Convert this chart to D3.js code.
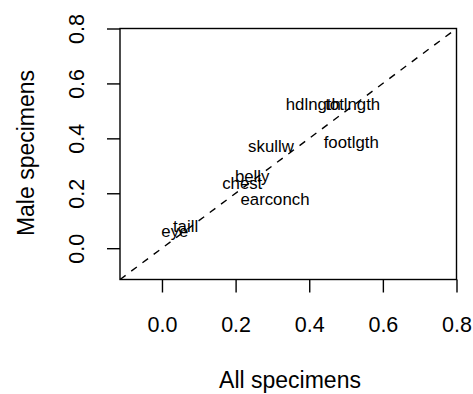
<!DOCTYPE html>
<html>
<head>
<meta charset="utf-8">
<script src="https://cdn.jsdelivr.net/npm/d3@7"></script>
<style>
  html, body { margin: 0; padding: 0; background: #fff; }
  svg { display: block; font-family: "Liberation Sans", Arial, Helvetica, sans-serif; }
</style>
</head>
<body>
<svg id="chart" width="473" height="394"></svg>
<script>
// Variable names and their loadings for all specimens vs. male specimens
const variables = ["hdlngth", "skullw", "totlngth", "taill", "footlgth", "earconch", "eye", "chest", "belly"];
const allSpecimens = [0.411, 0.296, 0.518, 0.064, 0.514, 0.307, 0.035, 0.218, 0.245];
const maleSpecimens = [0.525, 0.372, 0.525, 0.081, 0.388, 0.179, 0.061, 0.236, 0.263];

const tickValues = [0.0, 0.2, 0.4, 0.6, 0.8];
const axisDomain = [-0.114, 0.8];

const plot = { left: 120, right: 456.5, top: 28.5, bottom: 279.5 };

const svg = d3.select("#chart");

const x = d3.scaleLinear().domain(axisDomain).range([plot.left, plot.right]);
const y = d3.scaleLinear().domain(axisDomain).range([plot.bottom, plot.top]);

const tickFont = 21.5;
const titleFont = 23;
const labelFont = 16.8;
const lw = 1.4;

// Bottom axis
const xAxis = d3.axisBottom(x).tickValues(tickValues).tickFormat(d3.format(".1f"))
  .tickSize(13).tickSizeOuter(0);
const gx = svg.append("g").attr("transform", `translate(0,${plot.bottom})`).call(xAxis);
gx.select(".domain").remove();
gx.selectAll(".tick line").attr("stroke", "#000").attr("stroke-width", lw);
gx.selectAll(".tick text")
  .attr("y", 52).attr("dy", 0)
  .attr("fill", "#000")
  .style("font-size", tickFont + "px")
  .style("font-family", "'Liberation Sans', Arial, sans-serif");

// Left axis with rotated labels
const yAxis = d3.axisLeft(y).tickValues(tickValues).tickFormat(d3.format(".1f"))
  .tickSize(13).tickSizeOuter(0);
const gy = svg.append("g").attr("transform", `translate(${plot.left},0)`).call(yAxis);
gy.select(".domain").remove();
gy.selectAll(".tick line").attr("stroke", "#000").attr("stroke-width", lw);
gy.selectAll(".tick text")
  .attr("transform", "rotate(-90)")
  .attr("x", 0).attr("y", -36.5).attr("dy", 0)
  .attr("text-anchor", "middle")
  .attr("fill", "#000")
  .style("font-size", tickFont + "px")
  .style("font-family", "'Liberation Sans', Arial, sans-serif");

// Plot box
svg.append("rect")
  .attr("x", plot.left).attr("y", plot.top)
  .attr("width", plot.right - plot.left).attr("height", plot.bottom - plot.top)
  .attr("fill", "none").attr("stroke", "#000").attr("stroke-width", lw);

// Clip for the reference line
svg.append("clipPath").attr("id", "clip")
  .append("rect")
  .attr("x", plot.left).attr("y", plot.top)
  .attr("width", plot.right - plot.left).attr("height", plot.bottom - plot.top);

// y = x reference line
svg.append("line")
  .attr("clip-path", "url(#clip)")
  .attr("x1", x(axisDomain[0])).attr("y1", y(axisDomain[0]))
  .attr("x2", x(axisDomain[1])).attr("y2", y(axisDomain[1]))
  .attr("stroke", "#000").attr("stroke-width", lw)
  .attr("stroke-dasharray", "7,7");

// Variable labels at their coordinates
svg.append("g").selectAll("text")
  .data(variables)
  .join("text")
  .attr("x", (d, i) => x(allSpecimens[i]))
  .attr("y", (d, i) => y(maleSpecimens[i]))
  .attr("dy", "0.36em")
  .attr("text-anchor", "middle")
  .attr("fill", "#000")
  .style("font-size", labelFont + "px")
  .text(d => d);

// Axis titles
svg.append("text")
  .attr("x", 290).attr("y", 388)
  .attr("text-anchor", "middle")
  .style("font-size", titleFont + "px")
  .text("All specimens");

svg.append("text")
  .attr("transform", "translate(34,153) rotate(-90)")
  .attr("text-anchor", "middle")
  .style("font-size", titleFont + "px")
  .text("Male specimens");
</script>
</body>
</html>
